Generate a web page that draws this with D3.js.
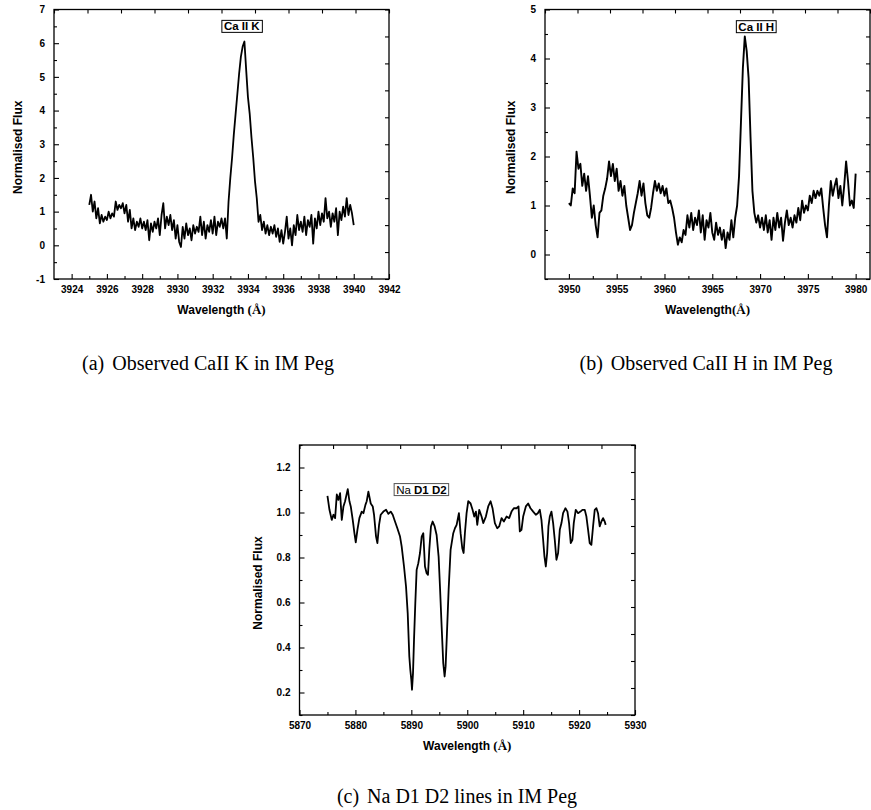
<!DOCTYPE html>
<html>
<head>
<meta charset="utf-8">
<script src="https://cdn.jsdelivr.net/npm/d3@7"></script>
<style>
body { margin: 0; background: #fff; }
svg { display: block; }
.tick text { font-family: "Liberation Sans", Arial, sans-serif; font-weight: bold; font-size: 10px; fill: #000; }
</style>
</head>
<body>
<svg id="fig" width="871" height="810"></svg>
<script>
// (a) Ca II K, one value every 0.1 A from 3925.0
var caKStart = 3925.0, caKStep = 0.1;
var caKFlux = [
    1.2, 1.5, 1.0, 1.3, 0.8, 1.1, 0.65, 0.9, 0.7, 0.85,
    0.75, 1.0, 0.8, 0.95, 0.85, 1.3, 1.05, 1.2, 1.1, 1.25,
    0.95, 1.2, 0.7, 1.05, 0.5, 0.8, 0.45, 0.7, 0.55, 0.8,
    0.5, 0.7, 0.45, 0.75, 0.15, 0.65, 0.4, 0.7, 0.5, 0.8,
    0.3, 0.9, 1.25, 0.5, 0.85, 0.6, 0.9, 0.45, 0.75, 0.2,
    0.6, 0.1, -0.05, 0.55, 0.2, 0.65, 0.3, 0.5, 0.15, 0.6,
    0.35, 0.55, 0.4, 0.85, 0.3, 0.7, 0.2, 0.6, 0.4, 0.75,
    0.35, 0.85, 0.3, 0.7, 0.55, 0.8, 0.5, 0.8, 0.2, 1.3,
    2.0, 2.6, 3.3, 3.9, 4.5, 5.1, 5.6, 5.9, 6.05, 5.2,
    4.4, 3.9, 3.2, 2.6, 1.9, 1.4, 0.7, 0.9, 0.45, 0.7,
    0.35, 0.6, 0.3, 0.55, 0.35, 0.6, 0.25, 0.5, 0.1, 0.45,
    0.05, 0.4, 0.85, 0.2, 0.5, 0.0, 0.6, 0.3, 0.9, 0.45,
    0.7, 0.4, 0.85, 0.3, 0.75, 0.55, 0.9, 0.05, 0.8, 0.5,
    1.0, 0.6, 0.95, 0.7, 1.4, 0.8, 1.0, 0.55, 0.95, 0.7,
    1.1, 0.3, 1.0, 0.75, 1.15, 0.85, 1.4, 0.9, 1.2, 0.95,
    0.6
];

// (b) Ca II H, one value every 0.2 A from 3950.0
var caHStart = 3950.0, caHStep = 0.2;
var caHFlux = [
    1.05, 1.0, 1.35, 1.25, 2.1, 1.75, 1.85, 1.4, 1.65, 1.3,
    1.6, 1.2, 0.75, 1.0, 0.6, 0.35, 0.85, 0.9, 1.2, 1.35,
    1.55, 1.9, 1.6, 1.85, 1.5, 1.75, 1.3, 1.5, 1.2, 1.4,
    1.0, 0.75, 0.5, 0.6, 0.85, 1.05, 1.25, 1.5, 1.2, 1.45,
    1.05, 0.8, 0.75, 0.95, 1.25, 1.5, 1.3, 1.45, 1.25, 1.4,
    1.2, 1.35, 1.05, 1.1, 0.95, 0.75, 0.45, 0.2, 0.35, 0.25,
    0.5, 0.4, 0.8, 0.55, 0.85, 0.5, 0.75, 0.6, 0.9, 0.45,
    0.8, 0.3, 0.7, 0.55, 0.85, 0.45, 0.3, 0.65, 0.4, 0.55,
    0.3, 0.5, 0.13, 0.45, 0.3, 0.7, 0.35, 0.75, 1.0, 1.6,
    2.7, 3.8, 4.45, 4.15, 3.6, 2.4, 1.3, 0.85, 0.65, 0.8,
    0.55, 0.75, 0.5, 0.8, 0.45, 0.7, 0.3, 0.75, 0.5, 0.85,
    0.55, 0.75, 0.28, 0.65, 0.9, 0.6, 0.75, 0.55, 0.8, 0.65,
    0.95, 0.7, 1.1, 0.85, 1.0, 0.9, 1.2, 1.05, 1.3, 1.15,
    1.3, 1.2, 1.35, 0.95, 0.6, 0.35, 1.0, 1.5, 1.2, 1.4,
    1.55, 1.15, 1.4, 1.0, 1.4, 1.9, 1.5, 1.0, 1.1, 0.95,
    1.65
];

// (c) Na D1 D2 region
var naWave = [
    5875.0, 5875.36, 5875.77, 5876.07, 5876.37, 5876.67, 5876.96, 5877.26, 5877.56, 5877.86,
    5878.15, 5878.63, 5878.93, 5879.17, 5879.52, 5879.82, 5880.06, 5880.36, 5880.71, 5881.13,
    5881.43, 5881.79, 5882.02, 5882.32, 5882.74, 5883.1, 5883.33, 5883.69, 5883.93, 5884.23,
    5884.52, 5885.0, 5885.48, 5885.89, 5886.31, 5886.67, 5887.08, 5887.5, 5887.98, 5888.27,
    5888.69, 5889.05, 5889.35, 5889.64, 5889.82, 5890.0, 5890.12, 5890.3, 5890.48, 5890.71,
    5890.95, 5891.25, 5891.55, 5891.85, 5892.14, 5892.44, 5892.74, 5892.98, 5893.21, 5893.51,
    5893.81, 5894.17, 5894.52, 5894.88, 5895.12, 5895.42, 5895.71, 5895.95, 5896.13, 5896.37,
    5896.67, 5897.02, 5897.5, 5897.8, 5898.1, 5898.51, 5898.81, 5899.11, 5899.35, 5899.58,
    5899.88, 5900.18, 5900.6, 5900.95, 5901.25, 5901.55, 5901.79, 5902.14, 5902.56, 5902.86,
    5903.33, 5903.75, 5904.17, 5904.52, 5904.94, 5905.36, 5905.71, 5906.13, 5906.55, 5907.02,
    5907.5, 5907.92, 5908.33, 5908.81, 5909.17, 5909.4, 5909.7, 5910.0, 5910.48, 5910.89,
    5911.31, 5911.79, 5912.26, 5912.62, 5912.98, 5913.27, 5913.57, 5913.81, 5914.05, 5914.29,
    5914.52, 5914.76, 5915.06, 5915.36, 5915.65, 5915.95, 5916.25, 5916.55, 5916.85, 5917.14,
    5917.56, 5917.92, 5918.21, 5918.51, 5918.81, 5919.05, 5919.4, 5919.82, 5920.24, 5920.6,
    5921.01, 5921.31, 5921.61, 5921.9, 5922.2, 5922.5, 5922.8, 5923.1, 5923.39, 5923.69,
    5923.99, 5924.29, 5924.58, 5924.76
];
var naFlux = [
    1.074, 1.012, 0.967, 0.99, 0.975, 1.08, 1.056, 1.086, 0.967, 1.027,
    1.05, 1.104, 1.05, 1.027, 0.967, 0.908, 0.867, 0.923, 0.975, 1.004,
    0.997, 1.034, 1.05, 1.093, 1.04, 1.027, 0.99, 0.893, 0.864, 0.945,
    0.99, 1.004, 1.012, 0.994, 1.004, 0.99, 0.96, 0.93, 0.893, 0.849,
    0.76, 0.671, 0.553, 0.36, 0.3, 0.256, 0.212, 0.286, 0.434, 0.597,
    0.745, 0.775, 0.82, 0.893, 0.908, 0.76, 0.73, 0.723, 0.834, 0.938,
    0.96, 0.938, 0.9, 0.804, 0.671, 0.493, 0.33, 0.271, 0.316, 0.464,
    0.656, 0.834, 0.908, 0.93, 0.945, 0.997, 0.908, 0.841, 0.82, 0.908,
    0.997, 1.05, 1.04, 1.012, 0.982, 1.004, 0.945, 1.012, 0.982, 0.953,
    0.982, 1.027, 1.05, 1.019, 0.953, 0.93, 0.938, 0.975, 0.96, 0.982,
    0.975, 1.004, 1.019, 1.019, 1.027, 0.916, 0.923, 0.982, 1.027, 1.04,
    1.019, 1.004, 0.99, 0.997, 1.012, 0.967, 0.879, 0.804, 0.76, 0.82,
    0.938, 0.982, 1.004, 0.953, 0.879, 0.79, 0.82, 0.923, 0.953, 0.997,
    1.019, 1.004, 0.953, 0.864, 0.879, 0.953, 1.012, 0.997, 1.004, 1.012,
    1.012, 0.982, 0.923, 0.864, 0.856, 0.938, 1.012, 1.019, 0.997, 0.938,
    0.96, 0.975, 0.96, 0.945
];

var caKTicksX = [3924, 3926, 3928, 3930, 3932, 3934, 3936, 3938, 3940, 3942];
var caKTicksY = [-1, 0, 1, 2, 3, 4, 5, 6, 7];
var caHTicksX = [3950, 3955, 3960, 3965, 3970, 3975, 3980];
var caHTicksY = [0, 1, 2, 3, 4, 5];
var naTicksX = [5870, 5880, 5890, 5900, 5910, 5920, 5930];
var naTicksY = [0.2, 0.4, 0.6, 0.8, 1.0, 1.2];

var SANS = '"Liberation Sans", Arial, sans-serif';
var SERIF = '"Liberation Serif", "Times New Roman", serif';

var svg = d3.select('#fig');

function sampled(start, step, values) {
    return values.map(function(v, i) { return [start + i * step, v]; });
}

function midpoints(ticks) {
    var out = [];
    for (var i = 0; i < ticks.length - 1; i++) out.push((ticks[i] + ticks[i + 1]) / 2);
    return out;
}

// plain hyphen minus, like the original plotting program
function intLabel(d) { return String(d); }

function drawPanel(p) {
    var g = svg.append('g');
    var x = d3.scaleLinear().domain(p.xDomain).range([p.left, p.left + p.width]);
    var y = d3.scaleLinear().domain(p.yDomain).range([p.top + p.height, p.top]);
    // the opposite frame sides carry plain ticks of an unlabelled 0..10 axis
    var xTop = d3.scaleLinear().domain([0, 10]).range(x.range());
    var yRight = d3.scaleLinear().domain([0, 10]).range(y.range());
    var bottom = p.top + p.height, right = p.left + p.width;

    var step = p.yTicks[1] - p.yTicks[0];
    var yMinor = midpoints(p.yTicks);
    if (p.yDomain[0] < p.yTicks[0]) yMinor.unshift(p.yTicks[0] - step / 2);
    if (p.yDomain[1] > p.yTicks[p.yTicks.length - 1]) yMinor.push(p.yTicks[p.yTicks.length - 1] + step / 2);
    var xMinor = midpoints(p.xTicks);

    function clean(sel) { sel.select('.domain').remove(); sel.attr('color', '#000'); }

    g.append('g').attr('transform', 'translate(0,' + bottom + ')')
        .call(d3.axisBottom(x).tickValues(p.xTicks).tickFormat(intLabel)
            .tickSizeInner(-5).tickSizeOuter(0).tickPadding(7))
        .call(clean);
    g.append('g').attr('transform', 'translate(0,' + bottom + ')')
        .call(d3.axisBottom(x).tickValues(xMinor).tickFormat('').tickSizeInner(-3).tickSizeOuter(0))
        .call(clean);
    g.append('g').attr('transform', 'translate(' + p.left + ',0)')
        .call(d3.axisLeft(y).tickValues(p.yTicks).tickFormat(p.yFormat || intLabel)
            .tickSizeInner(-5).tickSizeOuter(0).tickPadding(9))
        .call(clean);
    g.append('g').attr('transform', 'translate(' + p.left + ',0)')
        .call(d3.axisLeft(y).tickValues(yMinor).tickFormat('').tickSizeInner(-3).tickSizeOuter(0))
        .call(clean);
    g.append('g').attr('transform', 'translate(0,' + p.top + ')')
        .call(d3.axisTop(xTop).ticks(10).tickFormat('').tickSizeInner(-4).tickSizeOuter(0))
        .call(clean);
    g.append('g').attr('transform', 'translate(' + right + ',0)')
        .call(d3.axisRight(yRight).ticks(10).tickFormat('').tickSizeInner(-4).tickSizeOuter(0))
        .call(clean);
    g.selectAll('.tick line').attr('stroke-width', 1.1);

    g.append('rect')
        .attr('x', p.left).attr('y', p.top)
        .attr('width', p.width).attr('height', p.height)
        .attr('fill', 'none').attr('stroke', '#000').attr('stroke-width', 1.3);

    var line = d3.line().x(function(d) { return x(d[0]); }).y(function(d) { return y(d[1]); });
    g.append('path')
        .datum(p.data)
        .attr('d', line)
        .attr('fill', 'none')
        .attr('stroke', '#000')
        .attr('stroke-width', p.lineWidth)
        .attr('stroke-linejoin', 'round');

    // axis titles
    g.append('text')
        .attr('transform', 'translate(' + p.yTitleX + ',' + (p.top + p.height / 2 + 3) + ') rotate(-90)')
        .attr('text-anchor', 'middle')
        .attr('font-family', SANS).attr('font-weight', 'bold').attr('font-size', 12)
        .text('Normalised Flux');
    var xt = g.append('text')
        .attr('x', p.left + p.width / 2).attr('y', bottom + 35)
        .attr('text-anchor', 'middle')
        .attr('font-family', SANS).attr('font-weight', 'bold').attr('font-size', 12);
    xt.append('tspan').text(p.xTitle);
    xt.append('tspan').attr('font-family', SERIF).attr('font-size', 13).text('(\u00c5)');

    // line label in a box
    var lg = g.append('g');
    var lab = lg.append('text')
        .attr('x', x(p.label.at[0])).attr('y', y(p.label.at[1]))
        .attr('text-anchor', 'middle').attr('dy', '0.35em')
        .attr('font-family', SANS).attr('font-size', 11.5);
    p.label.parts.forEach(function(part) {
        lab.append('tspan').attr('font-weight', part[1] ? 'bold' : 'normal').text(part[0]);
    });
    var bb = lab.node().getBBox();
    lg.insert('rect', 'text')
        .attr('x', bb.x - 2).attr('y', bb.y)
        .attr('width', bb.width + 4).attr('height', bb.height)
        .attr('fill', '#fff')
        .attr('stroke', p.label.border).attr('stroke-width', 1);

    // sub caption
    var cap = svg.append('text')
        .attr('x', p.captionX).attr('y', p.captionY)
        .attr('text-anchor', 'middle')
        .attr('font-family', SERIF).attr('font-size', 20);
    cap.append('tspan').text(p.caption[0]);
    cap.append('tspan').attr('dx', 8).text(p.caption[1]);
}

drawPanel({
    left: 54, top: 9.5, width: 335, height: 269.5,
    xDomain: [3923, 3942], yDomain: [-1, 7],
    xTicks: caKTicksX, yTicks: caKTicksY,
    data: sampled(caKStart, caKStep, caKFlux), lineWidth: 1.8,
    yTitleX: 22, xTitle: 'Wavelength ',
    label: { at: [3933.65, 6.5], parts: [['Ca II K', true]], border: '#000' },
    caption: ['(a)', 'Observed CaII K in IM Peg'], captionX: 208, captionY: 370
});

drawPanel({
    left: 545, top: 9.5, width: 325, height: 269.5,
    xDomain: [3947.5, 3981.5], yDomain: [-0.5, 5],
    xTicks: caHTicksX, yTicks: caHTicksY,
    data: sampled(caHStart, caHStep, caHFlux), lineWidth: 1.9,
    yTitleX: 515, xTitle: 'Wavelength',
    label: { at: [3969.6, 4.65], parts: [['Ca II H', true]], border: '#000' },
    caption: ['(b)', 'Observed CaII H in IM Peg'], captionX: 706, captionY: 370
});

drawPanel({
    left: 299.5, top: 445, width: 335.5, height: 270,
    xDomain: [5870, 5930], yDomain: [0.1, 1.3],
    xTicks: naTicksX, yTicks: naTicksY,
    yFormat: d3.format('.1f'),
    data: naWave.map(function(w, i) { return [w, naFlux[i]]; }), lineWidth: 1.8,
    yTitleX: 262, xTitle: 'Wavelength ',
    label: { at: [5891.8, 1.102], parts: [['Na ', false], ['D1 D2', true]], border: '#555' },
    caption: ['(c)', 'Na D1 D2 lines in IM Peg'], captionX: 457, captionY: 803
});
</script>
</body>
</html>
